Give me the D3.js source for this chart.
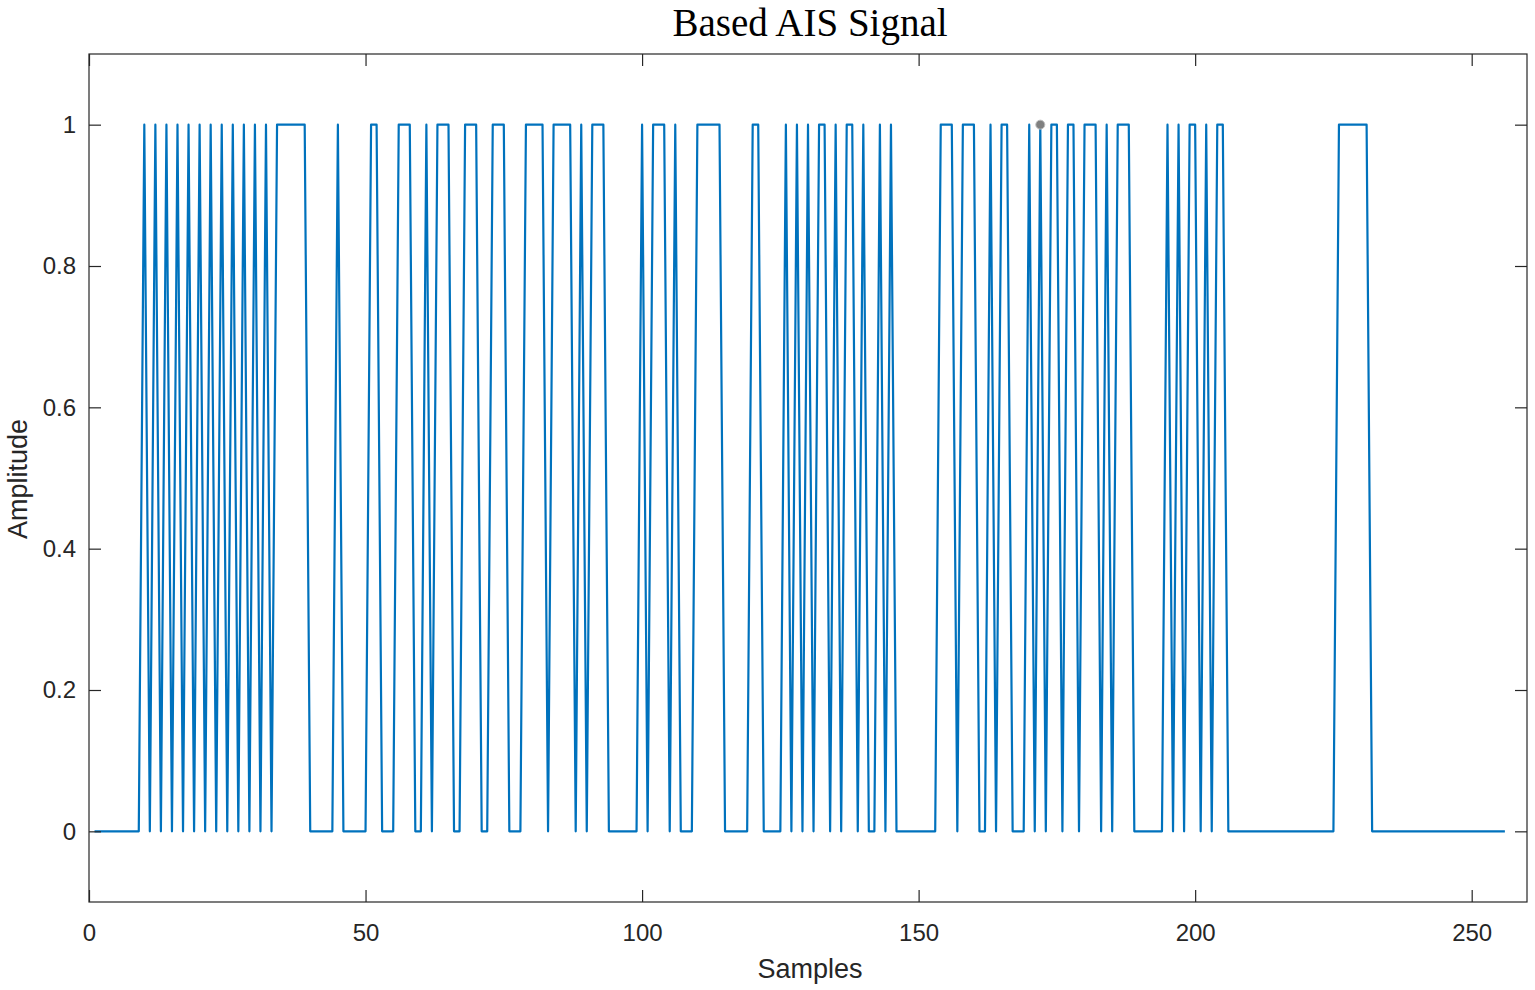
<!DOCTYPE html>
<html><head><meta charset="utf-8">
<script src="https://cdn.jsdelivr.net/npm/d3@7"></script>
<style>body{margin:0;background:#fff}svg{display:block}</style>
</head><body>
<svg id="chart" width="1535" height="990"></svg>
<script>
// sample indices 1..256, positions of samples equal to 1
const onesIdx = [10,12,14,16,18,20,22,24,26,28,30,32,
  34,35,36,37,38,39, 45, 51,52, 56,57,58, 61, 63,64,65, 68,69,70, 73,74, 75,
  79,80, 81,82, 84,85,86, 87, 89, 91, 92,93,
  100, 102,103,104, 106, 110,111,112,113,114, 120,121,
  126, 128, 130, 132,133, 135, 137,138, 140, 143, 145,
  154,155, 156, 158,159,160, 163, 165,166, 170, 172, 174,175, 177,178, 180,181, 182, 184, 186,187,188,
  195, 197, 199,200, 202, 204,205,
  226,227,228,229,230,231];
const nSamples = 256;
const samples = d3.range(1, nSamples + 1);
const values = samples.map(i => onesIdx.includes(i) ? 1 : 0);
const xTicks = [0,50,100,150,200,250];
const yTicks = [0,0.2,0.4,0.6,0.8,1];
const titleText = "Based AIS Signal";
const xLabel = "Samples", yLabel = "Amplitude";
const dataTip = {x:172, y:1};

const svg = d3.select("#chart");
const L=89, R=1527, T=54, B=902;
const x = d3.scaleLinear().domain([0,260]).range([L,R]);
const y = d3.scaleLinear().domain([-0.1,1.1]).range([B,T]);
const axisColor = "#262626";
const tickFont = "Arial, 'Liberation Sans', Helvetica, sans-serif";

svg.append("rect").attr("x",L).attr("y",T).attr("width",R-L).attr("height",B-T)
  .attr("fill","#fff").attr("stroke",axisColor).attr("stroke-width",1.2);

const line = d3.line().x((d,i)=>x(samples[i])).y(d=>y(d));
svg.append("path").datum(values).attr("d",line).attr("fill","none")
  .attr("stroke","#0072BD").attr("stroke-width",2.2).attr("stroke-linejoin","round");

// ticks
const tl=12;
const gx = svg.append("g").attr("transform",`translate(0,${B})`)
  .call(d3.axisBottom(x).tickValues(xTicks).tickSize(-tl).tickPadding(22).tickFormat(d3.format("d")));
const gxt = svg.append("g").attr("transform",`translate(0,${T})`)
  .call(d3.axisTop(x).tickValues(xTicks).tickSize(-tl).tickFormat(""));
const gy = svg.append("g").attr("transform",`translate(${L},0)`)
  .call(d3.axisLeft(y).tickValues(yTicks).tickSize(-tl).tickPadding(13).tickFormat(d=>d===0?"0":d===1?"1":d3.format(".1f")(d)));
const gyr = svg.append("g").attr("transform",`translate(${R},0)`)
  .call(d3.axisRight(y).tickValues(yTicks).tickSize(-tl).tickFormat(""));
[gx,gxt,gy,gyr].forEach(g=>{
  g.select(".domain").remove();
  g.selectAll("line").attr("stroke",axisColor).attr("stroke-width",1.2);
  g.selectAll("text").attr("fill",axisColor).style("font-family",tickFont).style("font-size","24px");
});

svg.append("circle").attr("cx",x(dataTip.x)).attr("cy",y(dataTip.y)).attr("r",4.5)
  .attr("fill","#808080").attr("stroke","#bbb").attr("stroke-width",1);

svg.append("text").attr("x",810).attr("y",36).attr("text-anchor","middle")
  .style("font-family","'Liberation Serif','Times New Roman',serif").style("font-size","39px")
  .attr("fill","#000").text(titleText);
svg.append("text").attr("x",810).attr("y",978).attr("text-anchor","middle")
  .style("font-family",tickFont).style("font-size","27px").attr("fill",axisColor).text(xLabel);
svg.append("text").attr("transform",`translate(27,${479}) rotate(-90)`).attr("text-anchor","middle")
  .style("font-family",tickFont).style("font-size","27px").attr("fill",axisColor).text(yLabel);
</script>
</body></html>
